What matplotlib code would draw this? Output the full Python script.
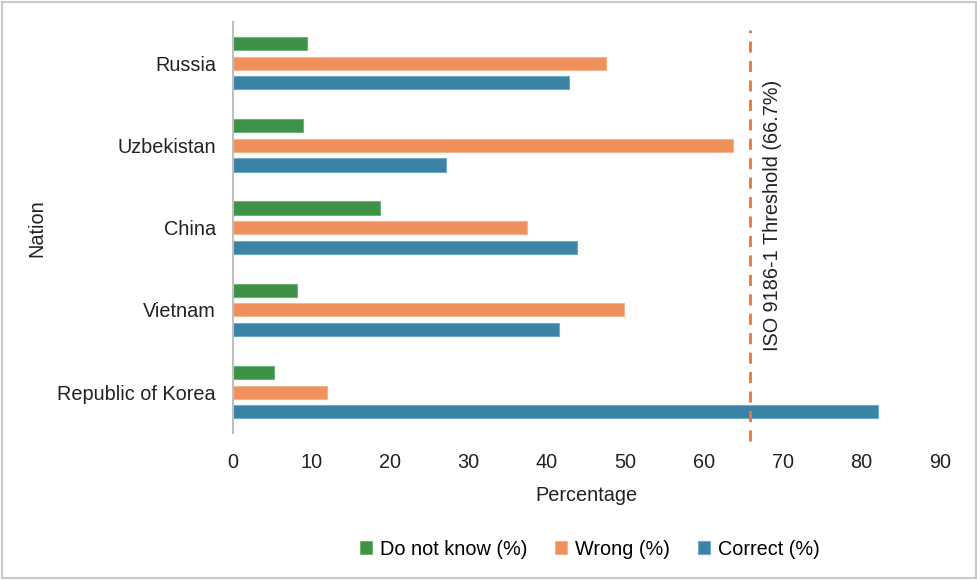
import numpy as np
import matplotlib.pyplot as plt
from matplotlib.patches import Rectangle

plt.rcParams['font.family'] = ['Liberation Sans', 'DejaVu Sans']

nations = ['Russia', 'Uzbekistan', 'China', 'Vietnam', 'Republic of Korea']
dont_know = [9.4, 9.0, 18.7, 8.2, 5.3]
wrong = [47.5, 63.7, 37.4, 49.8, 12.0]
correct = [42.8, 27.2, 43.8, 41.5, 82.1]
threshold = 65.8
threshold_label = 'ISO 9186-1 Threshold (66.7%)'

series = [
    ('Do not know (%)', dont_know, '#3f9147', '#6fb276'),
    ('Wrong (%)', wrong, '#f0905c', '#f6b48e'),
    ('Correct (%)', correct, '#3a82a6', '#72aac6'),
]

fs = 14.3
fig = plt.figure(figsize=(9.78, 5.80), dpi=100)
ax = fig.add_axes([0.238, 0.253, 0.723, 0.709])

y = np.arange(len(nations))
step = 0.238
h = 0.16
for i, (name, vals, col, edge) in enumerate(series):
    ax.barh(y + (i - 1) * step, vals, height=h, color=col, edgecolor=edge,
            linewidth=0.8, label=name)

ax.axvline(threshold, color='#e8773f', lw=2, ls=(0, (4, 3)), ymin=-0.02, ymax=0.98,
           clip_on=False)
ax.text(threshold + 2.9, 1.85, threshold_label, rotation=90, ha='center',
        va='center', fontsize=fs, color='#222222')

ax.set_xlim(0, 90)
ax.set_ylim(4.5, -0.5)
ax.set_xticks(np.arange(0, 91, 10))
ax.set_yticks(y)
ax.set_yticklabels(nations)
ax.tick_params(axis='both', length=0, labelsize=fs, colors='#222222')
ax.tick_params(axis='x', pad=14)
ax.tick_params(axis='y', pad=12)

for s in ['top', 'right', 'bottom']:
    ax.spines[s].set_visible(False)
ax.spines['left'].set_color('#bfbfbf')
ax.spines['left'].set_linewidth(1.5)

ax.set_xlabel('Percentage', fontsize=fs, color='#222222', labelpad=10)
ax.set_ylabel('Nation', fontsize=fs, color='#222222')
ax.yaxis.set_label_coords(-0.264, 0.5)

fig.legend(loc='center', bbox_to_anchor=(0.603, 0.053), ncol=3, frameon=False,
           fontsize=fs, handlelength=0.6, handleheight=0.6, columnspacing=1.4,
           handletextpad=0.4)

fig.patches.append(Rectangle((0.002, 0.003), 0.996, 0.994, transform=fig.transFigure,
                             fill=False, edgecolor='#c8c8c8', linewidth=1.5))

fig.savefig('out.png', dpi=100)
